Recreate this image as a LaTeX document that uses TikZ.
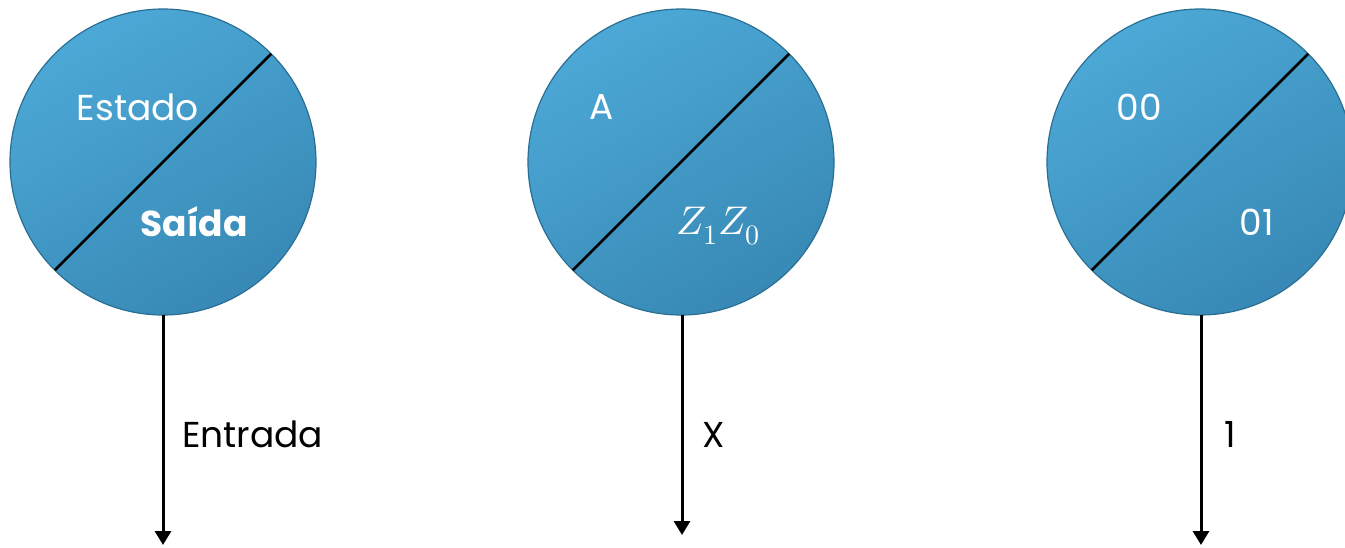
\documentclass[tikz,border=0pt]{standalone}
\usepackage{fontspec}
\usepackage{unicode-math}
\setmainfont{Poppins}
\setmathfont{Latin Modern Math}
\usetikzlibrary{arrows.meta}
\definecolor{ctop}{HTML}{4CA8D6}
\definecolor{cbot}{HTML}{3889B5}
\definecolor{cedge}{HTML}{2A6F93}
\tikzset{
  statecirc/.style={circle, minimum size=306pt, inner sep=0pt, outer sep=0pt,
    draw=cedge, line width=1.2pt, top color=ctop, bottom color=cbot, shading angle=30},
  divline/.style={draw=black, line width=2.8pt},
  intext/.style={text=white, font=\fontsize{36}{40}\selectfont, inner sep=0pt},
  outtext/.style={text=black, font=\fontsize{36}{40}\selectfont, inner sep=0pt, anchor=base west},
  flow/.style={draw=black, line width=3pt, -{Triangle[width=16pt,length=14pt]}}
}
\begin{document}
\begin{tikzpicture}[x=1pt,y=-1pt]
\useasboundingbox (0,0) rectangle (1345,547);
% circles
\node[statecirc] (c1) at (163,162) {};
\node[statecirc] (c2) at (681,162) {};
\node[statecirc] (c3) at (1200,162) {};
\draw[divline] (c1.45) -- (c1.225);
\draw[divline] (c2.45) -- (c2.225);
\draw[divline] (c3.45) -- (c3.225);
% texts inside
\node[intext] (t1a) at (138,107) {Estado};
\node[intext, font=\fontsize{36}{40}\selectfont\bfseries] (t1b) at (194,222) {Saída};
\node[intext] (t2a) at (602,107) {A};
\node[intext, font=\fontsize{40}{44}\selectfont] (t2b) at (718,226) {$Z_1Z_0$};
\node[intext] (t3a) at (1139,107) {00};
\node[intext] (t3b) at (1257,222) {01};
% arrows
\coordinate (e1) at (163,545);
\coordinate (e2) at (682,535);
\coordinate (e3) at (1201,545);
\draw[flow] (c1.south) -- (e1);
\draw[flow] (c2.south -| e2) -- (e2);
\draw[flow] (c3.south -| e3) -- (e3);
\node[outtext] (l1) at (182,447) {Entrada};
\node[outtext] (l2) at (702,447) {X};
\node[outtext] (l3) at (1224,447) {1};
\end{tikzpicture}
\end{document}
